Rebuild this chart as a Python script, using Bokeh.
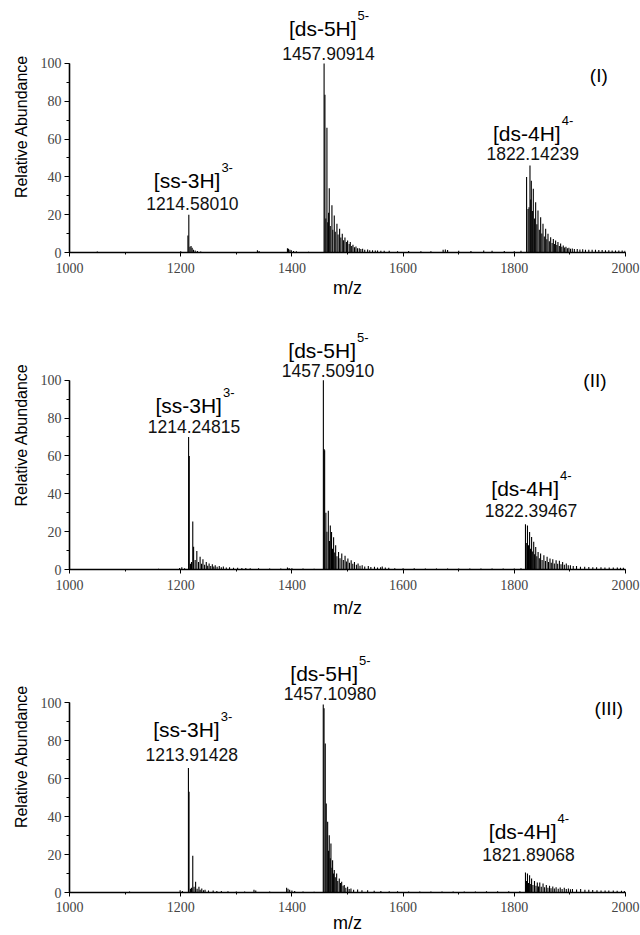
from bokeh.plotting import figure
from bokeh.models import Range1d, Label, SingleIntervalTicker, ColumnDataSource
from bokeh.layouts import column
from bokeh.embed import file_html
from bokeh.resources import INLINE

# ---------------- data ----------------
mz_I = [1050, 1105, 1150, 1200,
        1213.0, 1214.6, 1216.6, 1218.6, 1220.6, 1223.0, 1226.0, 1230.0, 1236.0,
        1338.0, 1341.0, 1392.0, 1394.0, 1396.5, 1399.0, 1403.0, 1408.0, 1430.0,
        1457.9, 1459.4, 1461.0, 1463.0, 1464.5, 1466.0, 1467.2, 1469.0, 1472.0, 1473.5,
        1476.2, 1478.0, 1481.0, 1483.0, 1485.8, 1488.0, 1490.6, 1493.0, 1495.4, 1498.0,
        1500.2, 1503.0, 1505.0, 1507.5, 1509.8, 1512.5, 1515.2, 1518.0, 1521.2, 1524.0,
        1527.2, 1531.0, 1536.2, 1540.0, 1545.0, 1550.0, 1554.0, 1560.0, 1566.0, 1575.0,
        1590.0, 1610.0, 1632.0, 1650.0, 1672.0, 1676.0, 1680.0, 1700.0, 1722.0, 1745.0,
        1760.0, 1782.0, 1800.0, 1812.0,
        1822.1, 1824.7, 1826.5, 1828.2, 1829.5, 1830.6, 1832.5, 1834.2, 1836.5, 1838.4,
        1840.5, 1842.6, 1845.0, 1847.4, 1849.5, 1851.6, 1854.0, 1856.4, 1858.5, 1860.6,
        1863.0, 1865.4, 1868.0, 1870.2, 1872.5, 1874.3, 1876.5, 1878.5, 1881.0, 1883.3,
        1885.5, 1888.1, 1890.5, 1892.9, 1895.5, 1898.2, 1901.0, 1904.3, 1908.0, 1913.2,
        1918.0, 1923.0, 1928.0, 1934.0, 1940.0, 1946.0, 1952.0, 1958.0, 1964.0, 1970.0,
        1976.0, 1982.0, 1988.0, 1994.0, 1999.0]
ab_I = [0.5, 0.3, 0.3, 0.6,
        9, 20, 3, 3.5, 2.5, 1.5, 1.0, 0.8, 0.5,
        1.2, 0.8, 2.2, 2.0, 1.5, 1.2, 0.8, 0.6, 0.4,
        100, 83.5, 18, 66, 16, 21, 34, 14, 25, 12,
        19.6, 11, 15.2, 9.5, 12.5, 8, 9.9, 6.5, 8, 5.5,
        6.3, 4.5, 5.5, 3.5, 4.1, 2.8, 3.2, 2.2, 2.3, 1.8,
        2.0, 1.5, 1.6, 1.2, 1.2, 1.0, 1.0, 0.9, 0.9, 0.9,
        0.7, 0.8, 0.6, 0.7, 1.5, 1.6, 1.3, 0.9, 0.8, 1.0,
        0.9, 0.8, 0.7, 0.9,
        40, 23, 24, 46, 28, 38, 22, 33.7, 18, 26.6,
        15, 22.2, 12, 18.7, 10, 15.2, 8.5, 12.5, 7, 9.9,
        6, 8.1, 5, 7.2, 4.5, 6.3, 4, 5.5, 3.5, 4.8,
        3, 3.7, 2.6, 3.0, 2.2, 2.5, 2.0, 2.1, 1.8, 1.9,
        1.6, 1.7, 1.5, 1.5, 1.4, 1.4, 1.3, 1.3, 1.2, 1.2,
        1.1, 1.1, 1.0, 1.0, 0.9]

mz_II = [1050, 1100, 1160, 1198, 1202, 1207,
         1214.2, 1215.4, 1217.5, 1219.5, 1221.7, 1223.2, 1226.0, 1229.0, 1232.0, 1234.9,
         1237.5, 1240.0, 1243.0, 1246.0, 1248.5, 1251.1, 1254.0, 1256.9, 1259.5, 1262.1,
         1265.5, 1269.4, 1273.0, 1276.7, 1282.0, 1287.8, 1295.0, 1302.4, 1310.0, 1317.1,
         1325.0, 1340.0, 1360.0, 1380.0, 1392.0, 1395.0, 1400.0, 1420.0, 1440.0,
         1456.6, 1457.8, 1458.9, 1461.1, 1463.0, 1465.5, 1467.5, 1469.1, 1471.3, 1473.0,
         1475.0, 1477.0, 1478.7, 1481.0, 1483.9, 1486.5, 1489.7, 1492.5, 1495.6, 1498.0,
         1500.7, 1503.5, 1506.6, 1509.5, 1512.5, 1516.0, 1519.0, 1522.5, 1526.4, 1531.0,
         1537.4, 1542.0, 1548.5, 1554.0, 1559.5, 1562.5, 1568.0, 1574.2, 1585.0, 1600.0,
         1620.0, 1640.0, 1660.0, 1680.0, 1700.0, 1720.0, 1740.0, 1760.0, 1780.0, 1800.0,
         1812.0,
         1820.1, 1821.5, 1823.7, 1825.5, 1827.5, 1829.2, 1831.1, 1833.0, 1834.9, 1836.5,
         1838.5, 1840.5, 1842.8, 1845.0, 1847.3, 1850.0, 1853.2, 1856.0, 1859.0, 1861.5,
         1864.2, 1866.5, 1869.2, 1872.0, 1875.2, 1878.0, 1881.1, 1884.0, 1886.9, 1890.0,
         1893.5, 1897.0, 1900.9, 1906.0, 1911.9, 1919.0, 1926.6, 1934.0, 1941.2, 1948.0,
         1955.9, 1963.0, 1970.7, 1978.0, 1985.3, 1991.0, 1996.2]
ab_II = [0.3, 0.3, 0.4, 0.8, 1.2, 0.6,
         70, 60, 3, 4, 25.4, 12, 5, 9.8, 4, 6.7,
         3, 5.4, 2.5, 4, 2, 3.2, 1.8, 2.8, 1.6, 2.3,
         1.4, 1.9, 1.2, 1.6, 1.1, 1.2, 0.9, 0.9, 0.8, 0.8,
         0.7, 0.6, 0.5, 0.5, 1.0, 0.8, 0.6, 0.5, 0.4,
         100, 63.7, 63, 30, 20, 31, 15, 23.3, 19.8, 11,
         17, 9, 12.8, 7, 9.3, 6, 8.4, 5, 7.2, 4.2,
         5.8, 3.5, 4.9, 3, 4, 2.5, 3.2, 2, 2.3, 1.6,
         1.8, 1.3, 1.4, 1.1, 1.2, 1.6, 1.0, 0.9, 0.7, 0.6,
         0.6, 0.5, 0.5, 0.5, 0.5, 0.5, 0.5, 0.5, 0.5, 0.5,
         0.6,
         23.9, 14, 23.3, 12.8, 19.8, 11, 17.2, 9.5, 14.6, 8,
         11.9, 7, 9.3, 6, 8.4, 5, 7.5, 4.5, 6.7, 4,
         5.8, 3.5, 5.4, 3.2, 4.9, 3, 4.6, 2.8, 4.0, 2.5,
         3.2, 2.2, 2.3, 1.8, 1.8, 1.5, 1.4, 1.3, 1.2, 1.2,
         1.2, 1.1, 1.05, 1.0, 1.0, 0.9, 0.9]

mz_III = [1050, 1108, 1160, 1199, 1203,
          1213.9, 1215.0, 1217.5, 1219.5, 1221.7, 1224.0, 1226.8, 1229.5, 1232.8, 1235.0,
          1237.9, 1241.0, 1243.8, 1250.0, 1258.4, 1265.0, 1273.1, 1285.0, 1300.0, 1315.0,
          1331.8, 1335.0, 1360.0, 1390.5, 1393.0, 1396.0, 1400.0, 1405.0, 1420.0, 1440.0,
          1456.4, 1457.8, 1460.0, 1461.8, 1464.3, 1466.0, 1467.2, 1469.0, 1470.2, 1472.0,
          1473.2, 1475.0, 1476.2, 1478.0, 1480.5, 1482.5, 1485.2, 1487.5, 1489.5, 1492.0,
          1494.2, 1497.0, 1500.2, 1503.0, 1506.2, 1511.0, 1518.2, 1526.0, 1536.2, 1548.0,
          1560.0, 1575.0, 1590.0, 1610.0, 1630.0, 1650.0, 1670.0, 1690.0, 1710.0, 1730.0,
          1750.0, 1770.0, 1790.0, 1810.0,
          1820.1, 1822.0, 1823.7, 1825.5, 1827.5, 1829.5, 1831.1, 1833.5, 1836.3, 1839.0,
          1841.4, 1843.5, 1845.8, 1848.5, 1851.7, 1854.5, 1857.6, 1860.5, 1863.4, 1866.0,
          1869.2, 1872.0, 1875.2, 1879.0, 1882.6, 1886.0, 1889.9, 1893.5, 1897.3, 1901.0,
          1904.6, 1912.0, 1919.3, 1927.0, 1934.0, 1941.0, 1948.7, 1956.0, 1963.3, 1970.0,
          1978.0, 1985.0, 1992.7, 1998.0]
ab_III = [0.3, 0.5, 0.3, 1.2, 0.8,
          65.6, 53, 2, 2.5, 19.3, 3, 5.6, 2, 3.0, 1.5,
          2.1, 1.2, 1.4, 1.0, 1.0, 0.8, 0.8, 0.6, 0.5, 0.5,
          1.5, 1.0, 0.5, 2.5, 2.0, 1.5, 1.0, 0.8, 0.5, 0.4,
          99, 97, 78.4, 46.8, 37.2, 22, 30.2, 18, 25.8, 13,
          17, 10, 11.8, 8, 10, 6, 7.4, 5, 5.6, 3.5,
          3.9, 2.5, 3, 1.8, 2.1, 1.5, 1.6, 1.2, 1.2, 0.9,
          0.8, 0.7, 0.6, 0.5, 0.5, 0.5, 0.5, 0.5, 0.5, 0.5,
          0.6, 0.6, 0.6, 0.7,
          10.5, 6, 10, 5, 9.1, 4.5, 7.4, 4, 6, 3.5,
          5.3, 3.2, 5.3, 3, 4.7, 2.8, 3.9, 2.5, 3.5, 2.3,
          3.2, 2.1, 2.8, 2.0, 2.6, 1.9, 2.5, 1.8, 2.1, 1.7,
          1.9, 1.6, 1.8, 1.5, 1.4, 1.3, 1.2, 1.1, 1.0, 1.0,
          1.0, 0.9, 0.9, 0.8]

panel_tags = ["(I)", "(II)", "(III)"]
ion_names = ["[ss-3H]", "[ds-5H]", "[ds-4H]"]
ion_charges = ["3-", "5-", "4-"]
masses_I = ["1214.58010", "1457.90914", "1822.14239"]
masses_II = ["1214.24815", "1457.50910", "1822.39467"]
masses_III = ["1213.91428", "1457.10980", "1821.89068"]
x_ticks_interval = 200
y_ticks_interval = 20
x_title = "m/z"
y_title = "Relative Abundance"

# ---------------- layout / style ----------------
FONT = "Liberation Sans"
TICK_FONT = "Liberation Serif"
W = 640
LEFT = 69
FRAME_W = 556

panels = [
    dict(mz=mz_I, ab=ab_I, masses=masses_I, tag=panel_tags[0],
         height=300, ytop=133.3, bottom=48, lab_standoff=6, ax_standoff=2,
         lab_x=[1221, 1466, 1833], name_y=[38.1, 118.5, 63.0], num_y=[25.9, 105.3, 52.4],
         tag_xy=(1952, 93.7)),
    dict(mz=mz_II, ab=ab_II, masses=masses_II, tag=panel_tags[1],
         height=320, ytop=142.1, bottom=50, lab_standoff=6, ax_standoff=5,
         lab_x=[1223.8, 1465, 1830], name_y=[86.8, 115.5, 42.6], num_y=[75.5, 105.3, 31.0],
         tag_xy=(1945, 100.0)),
    dict(mz=mz_III, ab=ab_III, masses=masses_III, tag=panel_tags[2],
         height=315, ytop=143.2, bottom=43, lab_standoff=5, ax_standoff=-2,
         lab_x=[1219.8, 1468.6, 1825.6], name_y=[85.6, 115.1, 32.0], num_y=[72.5, 104.6, 19.9],
         tag_xy=(1970, 96.7)),
]


def make_panel(cfg):
    p = figure(width=W, height=cfg["height"],
               x_range=Range1d(1000, 2000), y_range=Range1d(0, cfg["ytop"]),
               output_backend="svg", toolbar_location=None,
               min_border_left=LEFT, min_border_right=W - LEFT - FRAME_W,
               min_border_top=0, min_border_bottom=cfg["bottom"])
    p.outline_line_color = None
    p.grid.visible = False
    p.background_fill_color = "white"
    p.border_fill_color = "white"

    src = ColumnDataSource(dict(mz=cfg["mz"], ab=cfg["ab"]))
    p.segment(x0="mz", y0=0, x1="mz", y1="ab", source=src,
              line_color="black", line_width=1.1)

    # axes
    xa = p.xaxis[0]
    xa.ticker = SingleIntervalTicker(interval=x_ticks_interval, num_minor_ticks=2)
    xa.axis_label = x_title
    ya = p.yaxis[0]
    ya.ticker = SingleIntervalTicker(interval=y_ticks_interval, num_minor_ticks=2)
    ya.bounds = (0, 100)
    ya.axis_label = y_title
    for ax in (xa, ya):
        ax.axis_line_color = "black"
        ax.axis_line_width = 1.6
        ax.major_tick_line_color = "black"
        ax.minor_tick_line_color = "black"
        ax.major_tick_in = 0
        ax.minor_tick_in = 0
        ax.major_tick_line_width = 1
        ax.minor_tick_line_width = 1
        ax.major_label_text_font = TICK_FONT
        ax.major_label_text_font_size = "14px"
        ax.major_label_text_color = "#444444"
        ax.axis_label_text_font = FONT
        ax.axis_label_text_font_style = "normal"
        ax.axis_label_text_color = "black"
    xa.major_tick_out = 4
    xa.minor_tick_out = 2
    xa.major_label_standoff = cfg["lab_standoff"]
    xa.axis_label_standoff = cfg["ax_standoff"]
    xa.axis_label_text_font_size = "18px"
    ya.major_tick_out = 5
    ya.minor_tick_out = 3
    ya.major_label_standoff = 3
    ya.axis_label_standoff = 8
    ya.axis_label_text_font_size = "16px"

    # peak labels
    for i in range(3):
        lx = cfg["lab_x"][i]
        p.add_layout(Label(x=lx, y=cfg["name_y"][i], text=ion_names[i], x_offset=28,
                           text_align="right", text_baseline="middle",
                           text_font=FONT, text_font_size="21px", text_color="black"))
        p.add_layout(Label(x=lx, y=cfg["name_y"][i], text=ion_charges[i], x_offset=29,
                           y_offset=13, text_align="left", text_baseline="middle",
                           text_font=FONT, text_font_size="13px", text_color="black"))
        p.add_layout(Label(x=lx, y=cfg["num_y"][i], text=cfg["masses"][i],
                           text_align="center", text_baseline="middle",
                           text_font=FONT, text_font_size="17.5px", text_color="#111111"))
    tx, ty = cfg["tag_xy"]
    p.add_layout(Label(x=tx, y=ty, text=cfg["tag"], text_align="center",
                       text_baseline="middle", text_font=FONT, text_font_size="19px",
                       text_color="black"))
    return p


figs = [make_panel(c) for c in panels]
layout = column(*figs, spacing=0)

open("out.html", "w").write(file_html(layout, INLINE))
